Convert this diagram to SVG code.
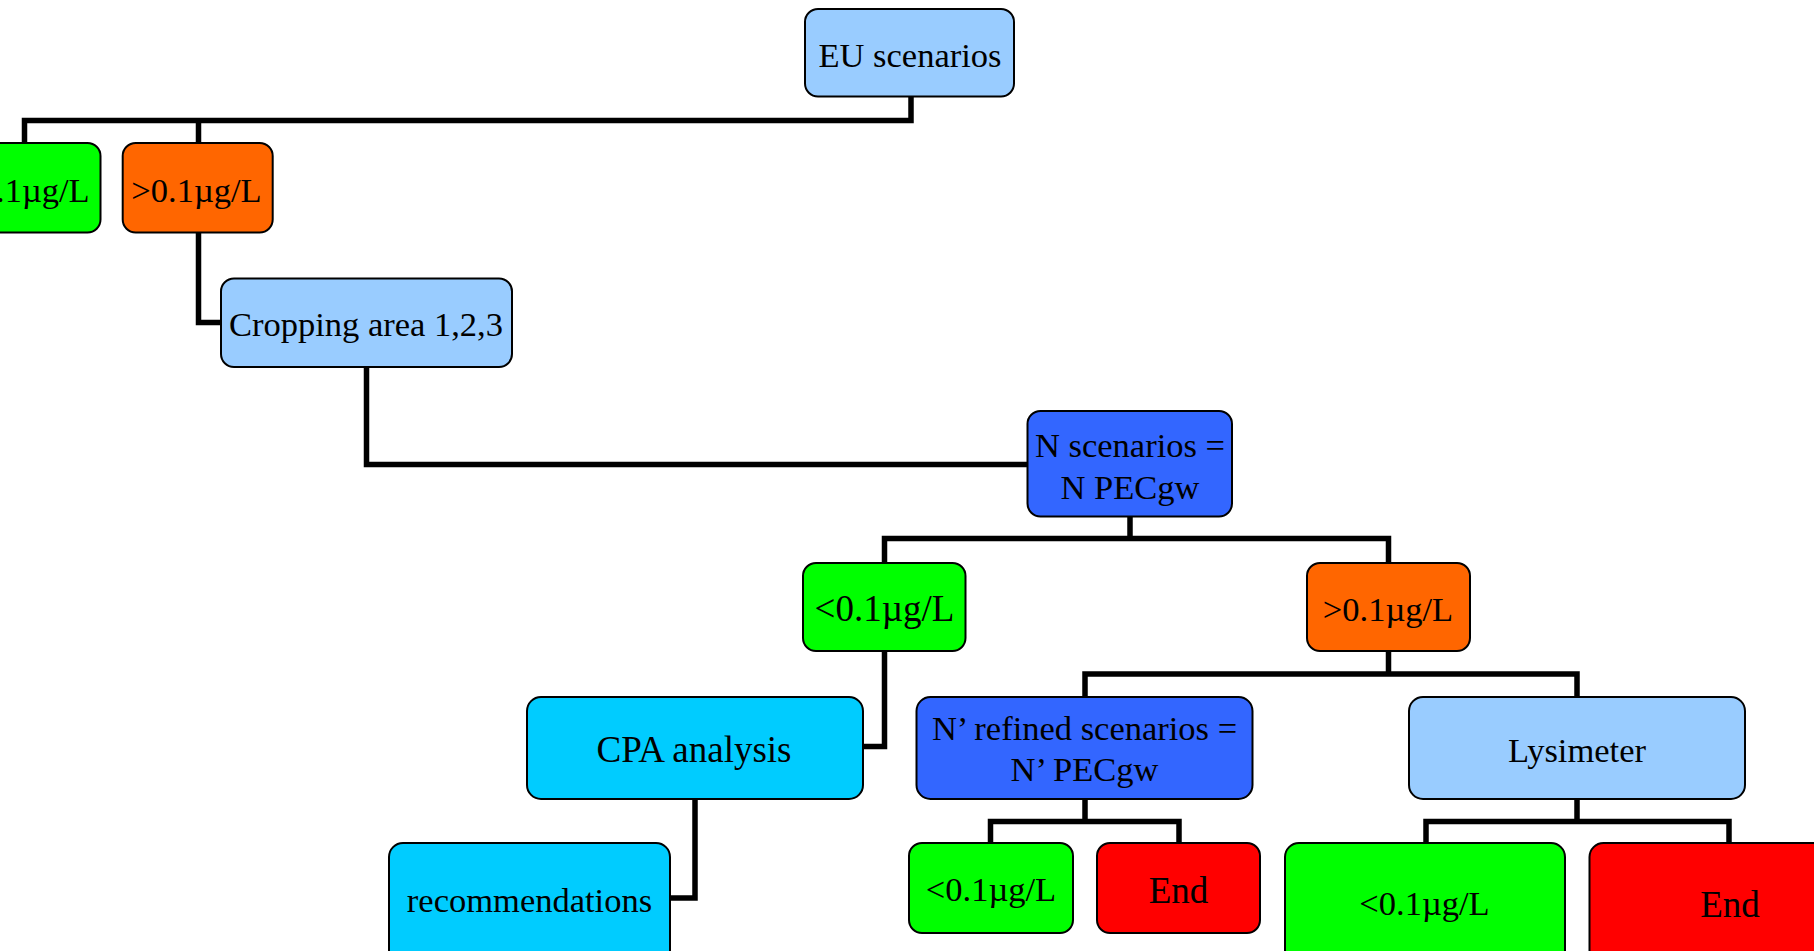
<svg xmlns="http://www.w3.org/2000/svg" width="1814" height="951" viewBox="0 0 1814 951">
<style>
.box{stroke:#000;stroke-width:2}
.lb{fill:#99CCFF}.gr{fill:#00FF00}.or{fill:#FF6600}.bl{fill:#3366FF}.cy{fill:#00CCFF}.rd{fill:#FF0000}
text{font-family:"Liberation Serif","Times New Roman",serif;font-size:34.5px;fill:#000;text-anchor:middle}
.big{font-size:37px}
.conn{fill:none;stroke:#000;stroke-width:5.5;stroke-linejoin:miter;stroke-linecap:butt}
</style>
<rect width="1814" height="951" fill="#fff"/>
<g id="connectors">
<path class="conn" d="M24.5 143V120.5H911V97M198.5 120.5V143"/>
<path class="conn" d="M198.5 232.5V322.5H221"/>
<path class="conn" d="M366.5 367V464.5H1027"/>
<path class="conn" d="M884.5 563V538.5H1388.5V563M1130 516.5V538.5"/>
<path class="conn" d="M884.5 651V746.5H863"/>
<path class="conn" d="M695 799V898H670"/>
<path class="conn" d="M1085 697V674H1577V697M1388.5 651V674"/>
<path class="conn" d="M990.5 843V821.5H1179V843M1085 799V821.5"/>
<path class="conn" d="M1426 843V821.5H1729V843M1577 799V821.5"/>
</g>
<g id="eu">
<rect class="box lb" x="805" y="9" width="209" height="87.5" rx="13"/>
<text x="910" y="67">EU scenarios</text>
</g>
<g id="top-low">
<rect class="box gr" x="-52" y="143" width="152.5" height="89.5" rx="13"/>
<text x="24.5" y="202">&lt;0.1µg/L</text>
</g>
<g id="top-high">
<rect class="box or" x="122.7" y="143" width="150" height="89.5" rx="13"/>
<text x="196.5" y="202">&gt;0.1µg/L</text>
</g>
<g id="cropping">
<rect class="box lb" x="221" y="278.5" width="291" height="88.5" rx="13"/>
<text x="366" y="336">Cropping area 1,2,3</text>
</g>
<g id="n-scenarios">
<rect class="box bl" x="1027.5" y="411" width="204.5" height="105.5" rx="13"/>
<text x="1130" y="457">N scenarios =</text>
<text x="1130" y="498.5">N PECgw</text>
</g>
<g id="mid-low">
<rect class="box gr" x="803" y="563" width="162.5" height="88" rx="13"/>
<text class="big" x="884.5" y="621">&lt;0.1µg/L</text>
</g>
<g id="mid-high">
<rect class="box or" x="1307" y="563" width="163" height="88" rx="13"/>
<text x="1388" y="621">&gt;0.1µg/L</text>
</g>
<g id="cpa">
<rect class="box cy" x="527" y="697" width="336" height="102" rx="14"/>
<text class="big" x="694" y="761.5">CPA analysis</text>
</g>
<g id="recommendations">
<rect class="box cy" x="389" y="843" width="281" height="130" rx="14"/>
<text x="529.5" y="911.5">recommendations</text>
</g>
<g id="n-refined">
<rect class="box bl" x="916.5" y="697" width="336" height="102" rx="14"/>
<text x="1084.5" y="739.5">N’ refined scenarios =</text>
<text x="1084.5" y="780.5">N’ PECgw</text>
</g>
<g id="lysimeter">
<rect class="box lb" x="1409" y="697" width="336" height="102" rx="14"/>
<text x="1577" y="762">Lysimeter</text>
</g>
<g id="refined-low">
<rect class="box gr" x="909" y="843" width="164" height="90" rx="13"/>
<text x="991" y="901">&lt;0.1µg/L</text>
</g>
<g id="refined-end">
<rect class="box rd" x="1097" y="843" width="163" height="90" rx="13"/>
<text class="big" x="1178.5" y="903">End</text>
</g>
<g id="lys-low">
<rect class="box gr" x="1285" y="843" width="280" height="130" rx="14"/>
<text x="1424.5" y="915">&lt;0.1µg/L</text>
</g>
<g id="lys-end">
<rect class="box rd" x="1589.5" y="843" width="280" height="130" rx="14"/>
<text class="big" x="1730" y="917">End</text>
</g>
</svg>
